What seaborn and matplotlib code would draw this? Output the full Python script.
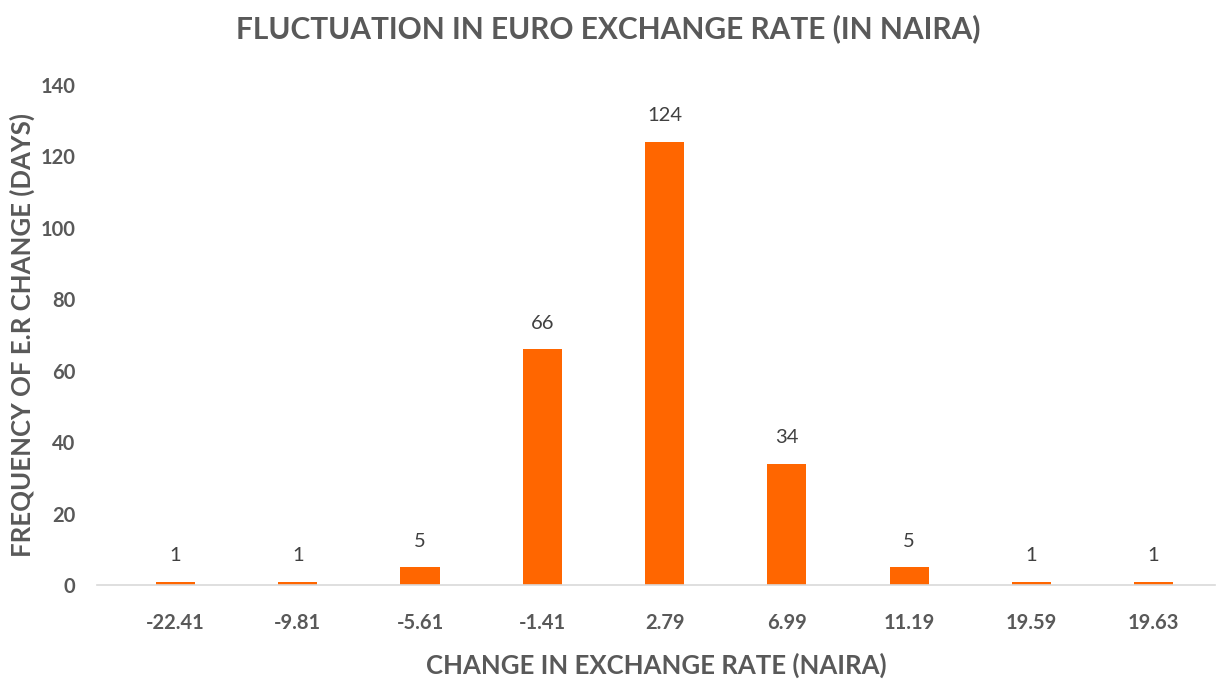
import pandas as pd
import matplotlib.pyplot as plt
import seaborn as sns

sns.set_style("white")
plt.rcParams['font.family'] = ['Lato', 'DejaVu Sans']

# Chart data
change_labels = ['-22.41', '-9.81', '-5.61', '-1.41', '2.79', '6.99', '11.19', '19.59', '19.63']
frequency = [1, 1, 5, 66, 124, 34, 5, 1, 1]

df = pd.DataFrame({'change': change_labels, 'days': frequency})

text_grey = '#595959'

fig = plt.figure(figsize=(12.16, 6.79), dpi=100)
ax = fig.add_axes([0.08, 0.138, 0.919, 0.737])

sns.barplot(data=df, x='change', y='days', color='#FF6600', saturation=1,
            width=0.32, linewidth=0, ax=ax)

# Data labels above bars
for i, v in enumerate(frequency):
    ax.text(i, v + 5, str(v), ha='center', va='bottom', fontsize=14.5, color='#404040')

ax.set_ylim(0, 140)
ax.set_xlim(-0.64, len(change_labels) - 0.5)
ax.set_yticks(range(0, 141, 20))

for side in ['top', 'right', 'left']:
    ax.spines[side].set_visible(False)
ax.spines['bottom'].set_color('#D9D9D9')
ax.spines['bottom'].set_linewidth(1.2)

ax.tick_params(axis='x', length=0, labelsize=14.5, labelcolor=text_grey, pad=20)
ax.tick_params(axis='y', length=0, labelsize=14.5, labelcolor=text_grey, pad=16)
for lbl in ax.get_xticklabels() + ax.get_yticklabels():
    lbl.set_fontweight('bold')

ax.set_xlabel('CHANGE IN EXCHANGE RATE (NAIRA)', fontsize=18.5, fontweight='bold',
              color=text_grey, labelpad=14)
ax.set_ylabel('FREQUENCY OF E.R CHANGE (DAYS)', fontsize=18.5, fontweight='bold',
              color=text_grey, labelpad=4)

fig.suptitle('FLUCTUATION IN EURO EXCHANGE RATE (IN NAIRA)', x=0.5, y=0.979,
             fontsize=21.5, fontweight='bold', color=text_grey)

fig.savefig('out.png', dpi=100)
